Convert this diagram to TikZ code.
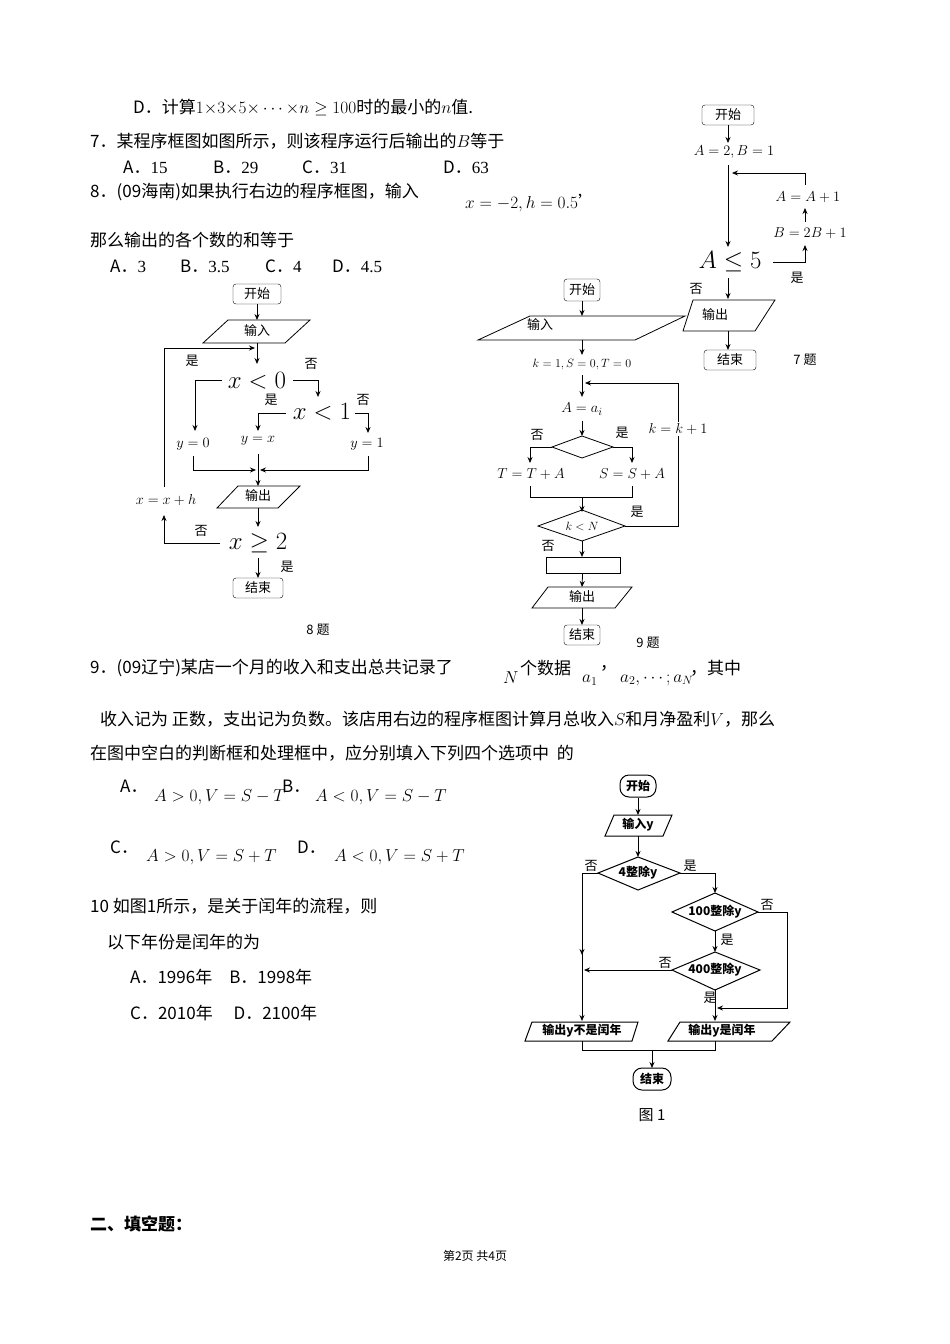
\documentclass[tikz,border=0pt]{standalone}
\usepackage{fontspec}
\setmainfont{Noto Sans CJK SC}
\newfontfamily\lserif{Liberation Serif}
\usetikzlibrary{arrows.meta,shapes.geometric}
\begin{document}
\begin{tikzpicture}[x=1pt,y=-1pt,
  txt/.style={anchor=west,inner sep=0pt,font=\fontsize{17}{20}\selectfont},
  lab/.style={inner sep=1pt,font=\fontsize{13}{15}\selectfont},
  bigm/.style={inner sep=1pt,font=\fontsize{30}{34}\selectfont},
  term/.style={draw,rounded corners=3pt,inner sep=0pt,font=\fontsize{13}{15}\selectfont},
  ln/.style={line width=0.8pt},
  ar/.style={line width=0.8pt,-{Stealth[length=6pt,width=5pt]}},
  bld/.style={inner sep=1pt,font=\fontsize{12}{14}\selectfont\bfseries}]
\useasboundingbox (0,0) rectangle (950,1344);
\fill[white] (0,0) rectangle (950,1344);
% ---------- top text
\node[txt] (t1) at (133,107) {D．计算$1{\times}3{\times}5{\times}\cdots{\times}n\geq100$时的最小的$n$值.};
\node[txt] (t2) at (90,141) {7．某程序框图如图所示，则该程序运行后输出的$B$等于};
\node[txt] (t3a) at (123,167) {A．{\lserif 15}};
\node[txt] (t3b) at (213,167) {B．{\lserif 29}};
\node[txt] (t3c) at (302,167) {C．{\lserif 31}};
\node[txt] (t3d) at (443,167) {D．{\lserif 63}};
\node[txt] (t4) at (90,192) {8．(09海南)如果执行右边的程序框图，输入};
\node[txt] (t4b) at (465,203) {$x=-2,h=0.5$’};
\node[txt] (t5) at (90,240) {那么输出的各个数的和等于};
\node[txt] (t6a) at (110,266) {A．{\lserif 3}};
\node[txt] (t6b) at (180,266) {B．{\lserif 3.5}};
\node[txt] (t6c) at (265,266) {C．{\lserif 4}};
\node[txt] (t6d) at (332,266) {D．{\lserif 4.5}};
% ---------- chart 7
\node[term,minimum width=52pt,minimum height=20pt] (s7) at (728,115) {开始};
\node[lab,font=\fontsize{15}{17}\selectfont] (a7) at (734,152) {$A=2,B=1$};
\node[bigm,font=\fontsize{36}{40}\selectfont] (c7) at (730,262) {$A\leq5$};
\node[lab,font=\fontsize{15}{17}\selectfont] (b7) at (810,233) {$B=2B+1$};
\node[lab,font=\fontsize{15}{17}\selectfont] (u7) at (808,197) {$A=A+1$};
\node[lab] (y7) at (797,278) {是};
\node[lab] (n7) at (696,289) {否};
\draw[ln] (693,300)--(775,300)--(755,331)--(683,331)--cycle;
\node[lab] (o7) at (715,315) {输出};
\node[term,minimum width=52pt,minimum height=20pt] (e7) at (730,360) {结束};
\node[lab] (q7) at (805,360) {7 题};
\draw[ar] (728,125)--(728,143);
\draw[ar] (728,165)--(728,247);
\draw[ar] (773,262)--(805,262)--(805,245);
\draw[ar] (805,222)--(805,208);
\draw[ar] (805,185)--(805,173)--(732,173);
\draw[ar] (728,278)--(728,299);
\draw[ar] (728,331)--(728,350);
% ---------- chart 8
\node[term,minimum width=48pt,minimum height=20pt] (s8) at (257,294) {开始};
\draw[ln] (228,320)--(310,320)--(285,343)--(203,343)--cycle;
\node[lab] (i8) at (257,331) {输入};
\draw[ar] (s8)--(257,320);
\draw[ar] (257,343)--(257,364);
\node[lab] (y8a) at (192,361) {是};
\node[lab] (n8a) at (311,364) {否};
\node[bigm] (c8a) at (257,381) {$x<0$};
\draw[ar] (222,380)--(195,380)--(195,431);
\draw[ar] (293,380)--(318,380)--(318,397);
\node[lab] (y8b) at (271,400) {是};
\node[lab] (n8b) at (363,400) {否};
\node[bigm] (c8b) at (322,412) {$x<1$};
\draw[ar] (286,413)--(258,413)--(258,431);
\draw[ar] (355,413)--(368,413)--(368,433);
\node[lab,font=\fontsize{15}{17}\selectfont] (y0) at (193,444) {$y=0$};
\node[lab,font=\fontsize{15}{17}\selectfont] (yx) at (258,441) {$y=x$};
\node[lab,font=\fontsize{15}{17}\selectfont] (y1) at (367,444) {$y=1$};
\draw[ar] (193,456)--(193,470)--(256,470);
\draw[ar] (368,456)--(368,470)--(260,470);
\draw[ar] (258,454)--(258,486);
\draw[ln] (238,486)--(300,486)--(278,508)--(217,508)--cycle;
\node[lab] (o8) at (258,496) {输出};
\draw[ar] (258,508)--(258,527);
\node[lab] (n8c) at (201,531) {否};
\node[bigm] (c8c) at (258,543) {$x\geq2$};
\draw[ar] (220,543)--(164,543)--(164,515);
\node[lab,font=\fontsize{14}{16}\selectfont] (h8) at (166,500) {$x=x+h$};
\draw[ar] (164,487)--(164,348)--(255,348);
\draw[ar] (258,558)--(258,578);
\node[lab] (y8c) at (287,567) {是};
\node[term,minimum width=50pt,minimum height=20pt] (e8) at (258,588) {结束};
\node[lab] (q8) at (318,630) {8 题};
% ---------- chart 9
\node[term,minimum width=36pt,minimum height=22pt] (s9) at (582,290) {开始};
\draw[ln] (530,316)--(685,316)--(635,340)--(478,340)--cycle;
\node[lab] (i9) at (540,325) {输入};
\draw[ar] (s9)--(582,316);
\draw[ar] (582,340)--(582,355);
\node[lab] (k9) at (582,364) {$k=1,S=0,T=0$};
\draw[ar] (582,375)--(582,397);
\node[lab,font=\fontsize{15}{17}\selectfont] (a9) at (582,409) {$A=a_i$};
\draw[ar] (582,421)--(582,436);
\draw[ln] (552,447)--(582,436)--(613,447)--(582,458)--cycle;
\node[lab] (n9) at (537,435) {否};
\node[lab] (y9) at (622,433) {是};
\draw[ar] (552,447)--(530,447)--(530,463);
\draw[ar] (613,447)--(632,447)--(632,463);
\node[lab,font=\fontsize{14}{16}\selectfont] (t9) at (531,474) {$T=T+A$};
\node[lab,font=\fontsize{14}{16}\selectfont] (s9b) at (632,474) {$S=S+A$};
\draw[ln] (530,486)--(530,497)--(632,497)--(632,486);
\draw[ar] (582,497)--(582,512);
\draw[ln] (538,526)--(582,510)--(625,526)--(582,541)--cycle;
\node[lab] (kn) at (582,526) {$k<N$};
\node[lab] (y9b) at (637,512) {是};
\node[lab] (n9b) at (548,546) {否};
\draw[ar] (625,526)--(678,526)--(678,383)--(585,383);
\node[lab,fill=white,font=\fontsize{15}{17}\selectfont] (kk) at (678,429) {$k=k+1$};
\draw[ar] (582,541)--(582,557);
\node[draw,line width=0.8pt,minimum width=74pt,minimum height=16pt,inner sep=0pt] (blank) at (583,565) {};
\draw[ar] (blank)--(582,587);
\draw[ln] (548,587)--(632,587)--(615,608)--(532,608)--cycle;
\node[lab] (o9) at (582,597) {输出};
\draw[ar] (582,608)--(582,625);
\node[term,minimum width=36pt,minimum height=20pt] (e9) at (582,635) {结束};
\node[lab] (q9) at (648,643) {9 题};
% ---------- Q9 text
\node[txt] (p1) at (90,668) {9．(09辽宁)某店一个月的收入和支出总共记录了};
\node[txt] (p1n) at (503,678) {$N$};
\node[txt] (p1b) at (520,668) {个数据};
\node[txt] (p1a) at (582,680) {$a_1$};
\node[txt] (p1c) at (600,668) {，};
\node[txt] (p1d) at (620,680) {$a_2,\cdots;a_N$};
\node[txt] (p1e) at (690,668) {，其中};
\node[txt] (p2) at (100,719) {收入记为 正数，支出记为负数。该店用右边的程序框图计算月总收入$S$和月净盈利$V$，那么};
\node[txt] (p3) at (90,753) {在图中空白的判断框和处理框中，应分别填入下列四个选项中\ \ 的};
\node[txt] (oa) at (120,786) {A．};
\node[txt] (oa2) at (154,797) {$A>0,V=S-T$};
\node[txt] (ob) at (282,786) {B．};
\node[txt] (ob2) at (315,797) {$A<0,V=S-T$};
\node[txt] (oc) at (110,847) {C．};
\node[txt] (oc2) at (146,857) {$A>0,V=S+T$};
\node[txt] (od) at (297,847) {D．};
\node[txt] (od2) at (334,857) {$A<0,V=S+T$};
\node[txt] (r1) at (90,906) {10 如图1所示，是关于闰年的流程，则};
\node[txt] (r2) at (107,942) {以下年份是闰年的为};
\node[txt] (r3) at (130,977) {A．1996年\quad B．1998年};
\node[txt] (r4) at (130,1013) {C．2010年\quad\ D．2100年};
% ---------- chart 10
\node[draw,line width=1pt,rounded corners=9pt,minimum width=36pt,minimum height=22pt,bld] (s10) at (638,786) {开始};
\draw[ar] (s10)--(638,815);
\draw[line width=1pt] (614,815)--(672,815)--(663,836)--(605,836)--cycle;
\node[bld] (i10) at (638,825) {输入y};
\draw[ar] (638,836)--(638,857);
\draw[line width=1pt] (598,873)--(638,857)--(680,873)--(638,890)--cycle;
\node[bld] (d1) at (638,873) {4整除y};
\node[lab] (n10a) at (591,866) {否};
\node[lab] (y10a) at (690,866) {是};
\draw[ar] (598,873)--(582,873)--(582,955);
\draw[ar] (582,950)--(582,1021);
\draw[ar] (680,873)--(715,873)--(715,893);
\draw[line width=1pt] (672,912)--(715,893)--(758,912)--(715,931)--cycle;
\node[bld] (d2) at (715,912) {100整除y};
\node[lab] (n10b) at (767,905) {否};
\draw[ar] (758,912)--(787,912)--(787,1008)--(717,1008);
\node[lab] (y10b) at (727,940) {是};
\draw[ar] (715,931)--(715,952);
\draw[line width=1pt] (672,970)--(715,952)--(760,970)--(715,990)--cycle;
\node[bld] (d3) at (715,970) {400整除y};
\node[lab] (n10c) at (665,963) {否};
\draw[ar] (672,970)--(584,970);
\node[lab] (y10c) at (710,998) {是};
\draw[ar] (715,990)--(715,1021);
\draw[line width=1pt] (532,1022)--(638,1022)--(632,1041)--(525,1041)--cycle;
\node[bld] (o10a) at (582,1031) {输出y不是闰年};
\draw[line width=1pt] (680,1022)--(790,1022)--(772,1041)--(668,1041)--cycle;
\node[bld] (o10b) at (722,1031) {输出y是闰年};
\draw[line width=1pt] (582,1041)--(582,1050)--(715,1050)--(715,1041);
\draw[ar] (652,1050)--(652,1068);
\node[draw,line width=1pt,rounded corners=9pt,minimum width=38pt,minimum height=22pt,bld] (e10) at (652,1079) {结束};
\node[lab,font=\fontsize{15}{17}\selectfont] (f1) at (652,1115) {图 1};
% ---------- bottom
\node[txt,font=\fontsize{17}{20}\selectfont\bfseries] (sec) at (90,1224) {二、填空题：};
\node[lab,font=\fontsize{12}{14}\selectfont] (pg) at (475,1256) {第2页 共4页};
\end{tikzpicture}
\end{document}
